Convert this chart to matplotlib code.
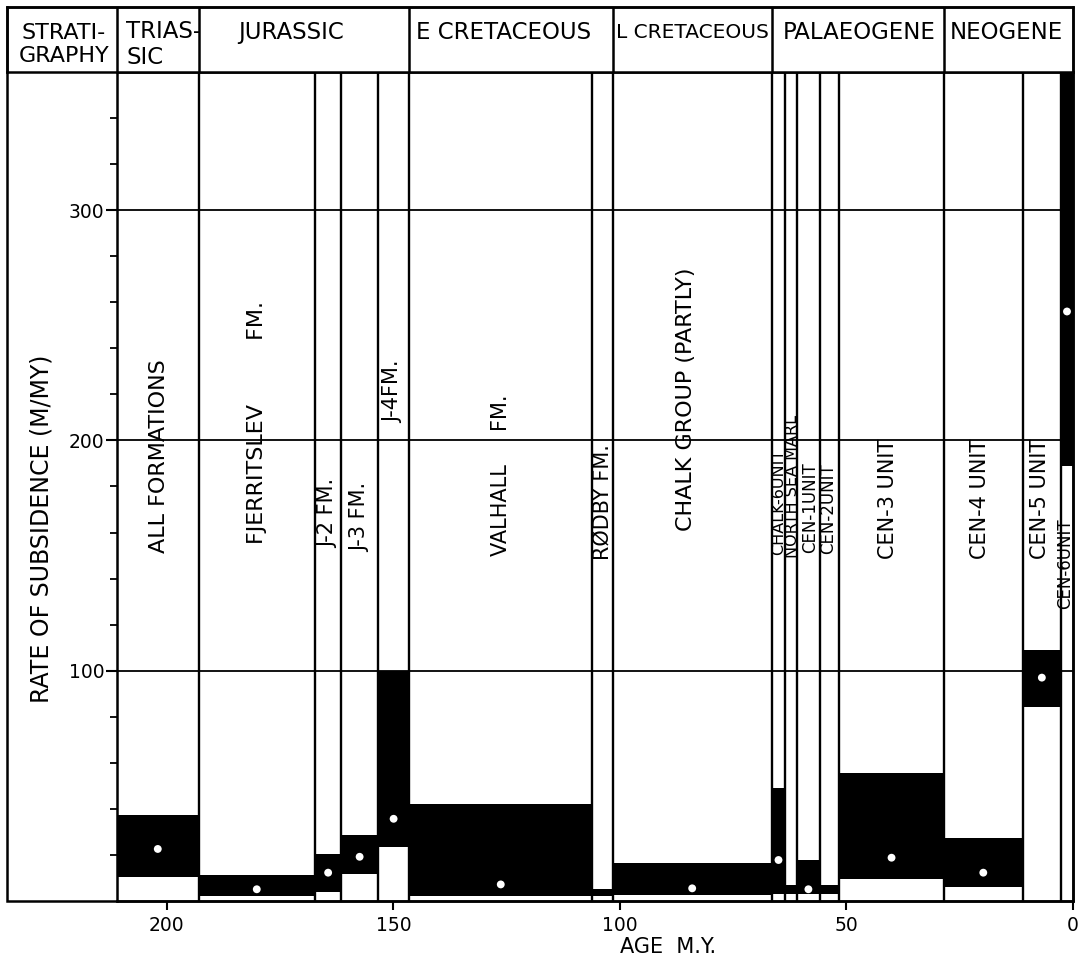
import numpy as np
import matplotlib
matplotlib.use("Agg")
import matplotlib.pyplot as plt
from matplotlib.patches import Rectangle

plt.rcParams['font.family'] = ['DejaVu Sans']

# ---------------- data ----------------
unit_names = ["ALL FORMATIONS", "FJERRITSLEV         FM.", "J-2 FM.", "J-3 FM.", "J-4FM.",
              "VALHALL     FM.", "RØDBY FM.", "CHALK GROUP (PARTLY)", "CHALK-6UNIT",
              "NORTH SEA MARL", "CEN-1UNIT", "CEN-2UNIT", "CEN-3 UNIT", "CEN-4 UNIT",
              "CEN-5 UNIT", "CEN-6UNIT"]
unit_old_age = [211, 193, 167.3, 161.5, 153.4, 146.5, 106.1, 101.6, 66.5, 63.5, 60.9,
                55.9, 51.6, 28.5, 11.1, 2.65]
unit_young_age = [193, 167.3, 161.5, 153.4, 146.5, 106.1, 101.6, 66.5, 63.5, 60.9, 55.9,
                  51.6, 28.5, 11.1, 2.65, 0]
rate_min = [10.5, 2.0, 4.0, 11.6, 23.4, 2.3, 2.0, 2.6, 3.0, 3.0, 3.0, 3.0, 9.4, 6.2, 84.3, 188.7]
rate_max = [37.3, 11.3, 20.3, 28.6, 100, 42.0, 5.1, 16.3, 48.9, 6.9, 17.8, 6.9, 55.7, 27.2,
            108.9, 360]
rate_mean = [22.6, 5.1, 12.3, 19.2, 35.7, 7.2, np.nan, 5.5, 17.8, np.nan, 5.1, np.nan, 18.8,
             12.3, 97, 256]
label_age = [201.7, 180.1, 164.5, 157.4, 150.1, 126.3, 103.8, 85.4, 65.0, 61.9, 58.0, 54.0,
             40.8, 20.5, 7.3, 1.8]
label_rate = [193.0, 208.0, 168.3, 166.7, 221.3, 184.8, 173.2, 218.0, 173.3, 180.0, 170.7,
              170.5, 174.8, 174.8, 174.8, 146.6]
label_size = [16, 16, 15, 15, 15, 15, 15, 16, 11.5, 11.5, 12, 12, 15, 15, 15, 12]

period_names = ["TRIAS-\nSIC", "JURASSIC", "E CRETACEOUS", "L CRETACEOUS", "PALAEOGENE", "NEOGENE"]
period_bounds = [211, 193, 146.6, 101.6, 66.5, 28.4, 0]
period_label_age = [209.0, 172.6, 125.6, 84.1, 47.1, 14.6]
period_label_ha = ["left", "center", "center", "center", "center", "center"]
period_label_size = [16.5, 16.5, 16.5, 14.5, 16.5, 16.5]

x_ticks = [200, 150, 100, 50, 0]
y_major = [100, 200, 300]
y_minor = [20, 40, 60, 80, 120, 140, 160, 180, 220, 240, 260, 280, 320, 340]
age_max, age_min = 211, 0
rate_top = 360

# ---------------- layout ----------------
W, H = 1088, 971
fig = plt.figure(figsize=(W / 100, H / 100), dpi=100)


def fx(px):
    return px / W


def fy(py):
    return 1 - py / H


AX_L, AX_R, AX_T, AX_B = 117, 1073, 72, 901
OUT_L, OUT_T = 7, 7

ax = fig.add_axes([fx(AX_L), fy(AX_B), (AX_R - AX_L) / W, (AX_B - AX_T) / H])
ax.set_xlim(age_max, age_min)
ax.set_ylim(0, rate_top)

# outer frame
fig.add_artist(Rectangle((fx(OUT_L), fy(AX_B)), (AX_R - OUT_L) / W, (AX_B - OUT_T) / H,
                         transform=fig.transFigure, fill=False, lw=1.8, color='black'))

# grid lines
for v in y_major:
    ax.axhline(v, color='black', lw=1.3, zorder=1)

# black ranges
old = np.array(unit_old_age)
young = np.array(unit_young_age)
centers = (old + young) / 2
widths = old - young
ax.bar(centers, np.array(rate_max) - np.array(rate_min), bottom=rate_min, width=widths,
       color='black', edgecolor='none', zorder=2)

# column boundaries
for a in unit_old_age[1:]:
    ax.axvline(a, color='black', lw=1.7, zorder=2)

# mean dots
ax.scatter(centers, rate_mean, s=32, color='white', edgecolors='none', zorder=4)

# column labels
for name, a, r, s in zip(unit_names, label_age, label_rate, label_size):
    ax.text(a, r, name, rotation=90, ha='center', va='center', fontsize=s, zorder=3)

# ticks
ax.set_xticks(x_ticks)
ax.set_xticklabels([str(t) for t in x_ticks])
ax.set_yticks(y_major)
ax.set_yticklabels([str(t) for t in y_major])
ax.set_yticks(y_minor, minor=True)
ax.tick_params(axis='x', direction='out', length=6.5, width=1.5, pad=4, labelsize=13.5)
ax.tick_params(axis='y', which='major', direction='out', length=8, width=1.5, pad=1,
               labelsize=13.5)
ax.tick_params(axis='y', which='minor', direction='out', length=5, width=1.3)
for sp in ax.spines.values():
    sp.set_linewidth(1.8)

fig.text(fx(42), fy(529), "RATE OF SUBSIDENCE (M/MY)", rotation=90, ha='center',
         va='center', fontsize=17)
fig.text(fx(668), fy(947), "AGE  M.Y.", ha='center', va='center', fontsize=15)

# header
hx = fig.add_axes([fx(OUT_L), fy(AX_T), (AX_R - OUT_L) / W, (AX_T - OUT_T) / H])
ppm = (AX_R - AX_L) / (age_max - age_min)
hx.set_xlim(age_max + (AX_L - OUT_L) / ppm, age_min)
hx.set_ylim(0, 1)
hx.set_xticks([])
hx.set_yticks([])
for sp in hx.spines.values():
    sp.set_linewidth(1.8)
for b in period_bounds[:-1]:
    hx.axvline(b, color='black', lw=1.8)
hx.text(age_max + (AX_L - 64) / ppm, 0.42, "STRATI-\nGRAPHY", ha='center', va='center',
        fontsize=16, linespacing=1.2)
for name, a, ha, s in zip(period_names, period_label_age, period_label_ha, period_label_size):
    y = 0.42 if "\n" in name else 0.6
    hx.text(a, y, name, ha=ha, va='center', fontsize=s, linespacing=1.2)

fig.savefig("out.png", dpi=100)
